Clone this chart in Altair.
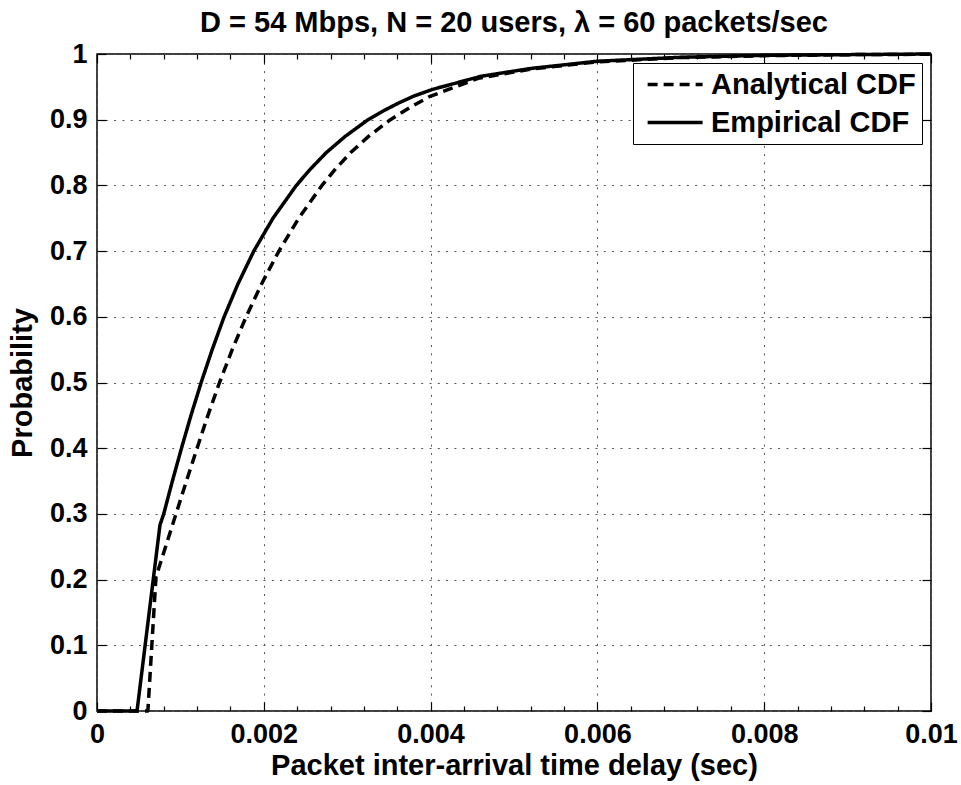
import altair as alt
import pandas as pd

# ---- data ----
series_names = ["Analytical CDF", "Empirical CDF"]

delay_analytical = [0.0, 0.00061, 0.000707, 0.000947, 0.001072, 0.0012, 0.00133, 0.001469,
                    0.001621, 0.001788, 0.001973, 0.002181, 0.002419, 0.002697, 0.00286,
                    0.003042, 0.00326, 0.003518, 0.00377, 0.003985, 0.00457, 0.0052, 0.006,
                    0.007, 0.008, 0.009, 0.01]
prob_analytical = [0.0, 0.0, 0.204, 0.30, 0.35, 0.40, 0.45, 0.50,
                   0.55, 0.60, 0.65, 0.70, 0.75, 0.80, 0.825,
                   0.85, 0.875, 0.90, 0.92, 0.935, 0.963, 0.977, 0.988,
                   0.9945, 0.9975, 0.999, 0.9996]

delay_empirical = [0.0, 0.00048, 0.000755, 0.0008, 0.000904, 0.001013, 0.001127, 0.001249,
                   0.001381, 0.001524, 0.00169, 0.00188, 0.00211, 0.00239, 0.00256,
                   0.00275, 0.00298, 0.00325, 0.00342, 0.00361, 0.0038, 0.00402, 0.0046,
                   0.0052, 0.006, 0.007, 0.008, 0.009, 0.01]
prob_empirical = [0.0, 0.0, 0.283, 0.30, 0.35, 0.40, 0.45, 0.50,
                  0.55, 0.60, 0.65, 0.70, 0.75, 0.80, 0.825,
                  0.85, 0.875, 0.90, 0.9125, 0.925, 0.936, 0.946, 0.966,
                  0.978, 0.989, 0.995, 0.998, 0.999, 1.0]

x_major = [0, 0.002, 0.004, 0.006, 0.008, 0.01]
x_minor = [0.0004, 0.0008, 0.0012, 0.0016, 0.0024, 0.0028, 0.0032, 0.0036,
           0.0044, 0.0048, 0.0052, 0.0056, 0.0064, 0.0068, 0.0072, 0.0076,
           0.0084, 0.0088, 0.0092, 0.0096]
y_major = [0, 0.1, 0.2, 0.3, 0.4, 0.5, 0.6, 0.7, 0.8, 0.9, 1.0]

title_text = "D = 54 Mbps, N = 20 users, \u03bb = 60 packets/sec"
x_title = "Packet inter-arrival time delay (sec)"
y_title = "Probability"

# ---- table ----
rows = []
for name, xs_, ps_ in [(series_names[0], delay_analytical, prob_analytical),
                       (series_names[1], delay_empirical, prob_empirical)]:
    for i, (xv, pv) in enumerate(zip(xs_, ps_)):
        rows.append({"series": name, "delay": xv, "prob": pv, "order": i})
df = pd.DataFrame(rows)

FONT = "Liberation Sans"
xscale = alt.Scale(domain=[0, 0.01], nice=False, zero=False)
yscale = alt.Scale(domain=[0, 1], nice=False)

base = alt.Chart(df)

lines = base.mark_line(color="black", strokeWidth=3.5, strokeCap="butt",
                       strokeJoin="round").encode(
    x=alt.X("delay:Q", scale=xscale,
            axis=alt.Axis(orient="bottom", values=x_major, format=".3~f", title=x_title,
                          grid=True, ticks=False, domain=False, labelPadding=10,
                          titlePadding=4, labelFlush=False, labelOverlap=False)),
    y=alt.Y("prob:Q", scale=yscale,
            axis=alt.Axis(orient="left", values=y_major, format=".1~f", title=y_title,
                          grid=True, ticks=False, domain=False, labelPadding=10,
                          titlePadding=12, labelFlush=False, labelOverlap=False)),
    strokeDash=alt.StrokeDash(
        "series:N",
        scale=alt.Scale(domain=series_names, range=[[10, 6], [1, 0]]),
        legend=alt.Legend(title=None, orient="none", legendX=536, legendY=9,
                          direction="vertical", symbolType="M-0.5,0H3.5",
                          symbolSize=756, symbolStrokeWidth=3.5,
                          symbolStrokeColor="black", symbolFillColor="transparent",
                          labelFont=FONT, labelFontSize=29, labelFontWeight="bold",
                          labelColor="black", labelLimit=400, strokeColor="black",
                          fillColor="white", padding=6, rowPadding=7, labelOffset=41)),
    order="order:Q",
)


def tick_layer(xaxis, yaxis):
    return base.mark_line(opacity=0).encode(
        x=alt.X("delay:Q", scale=xscale, axis=xaxis),
        y=alt.Y("prob:Q", scale=yscale, axis=yaxis),
        detail="series:N",
    )


def tick_axis(orient, values, size):
    return alt.Axis(orient=orient, values=values, offset=-size, tickSize=size,
                    labels=False, domain=False, grid=False, title=None,
                    ticks=True, tickColor="black", tickWidth=1.2)


layers = [
    lines,
    tick_layer(tick_axis("bottom", x_major, 9), None),
    tick_layer(tick_axis("bottom", x_minor, 5), None),
    tick_layer(tick_axis("top", x_major, 9), None),
    tick_layer(tick_axis("top", x_minor, 5), None),
    tick_layer(None, tick_axis("left", y_major, 9)),
    tick_layer(None, tick_axis("right", y_major, 9)),
]

chart = alt.layer(*layers).resolve_axis(
    x="independent", y="independent"
).properties(
    width=834, height=657,
    autosize=alt.AutoSizeParams(type="none"),
    padding={"left": 97, "top": 54, "right": 30, "bottom": 74},
    background="white",
    title=alt.TitleParams(title_text, font=FONT, fontSize=29, fontWeight="bold",
                          color="black", anchor="middle", frame="group", offset=2),
).configure_view(
    stroke="black", strokeWidth=1.5
).configure_axis(
    labelFont=FONT, labelFontSize=27, labelFontWeight="bold", labelColor="black",
    titleFont=FONT, titleFontSize=29, titleFontWeight="bold", titleColor="black",
    gridColor="#555555", gridDash=[2, 6.3], gridWidth=1, gridOpacity=1,
)

chart.save("out.html", embed_options={"renderer": "svg", "actions": False})
